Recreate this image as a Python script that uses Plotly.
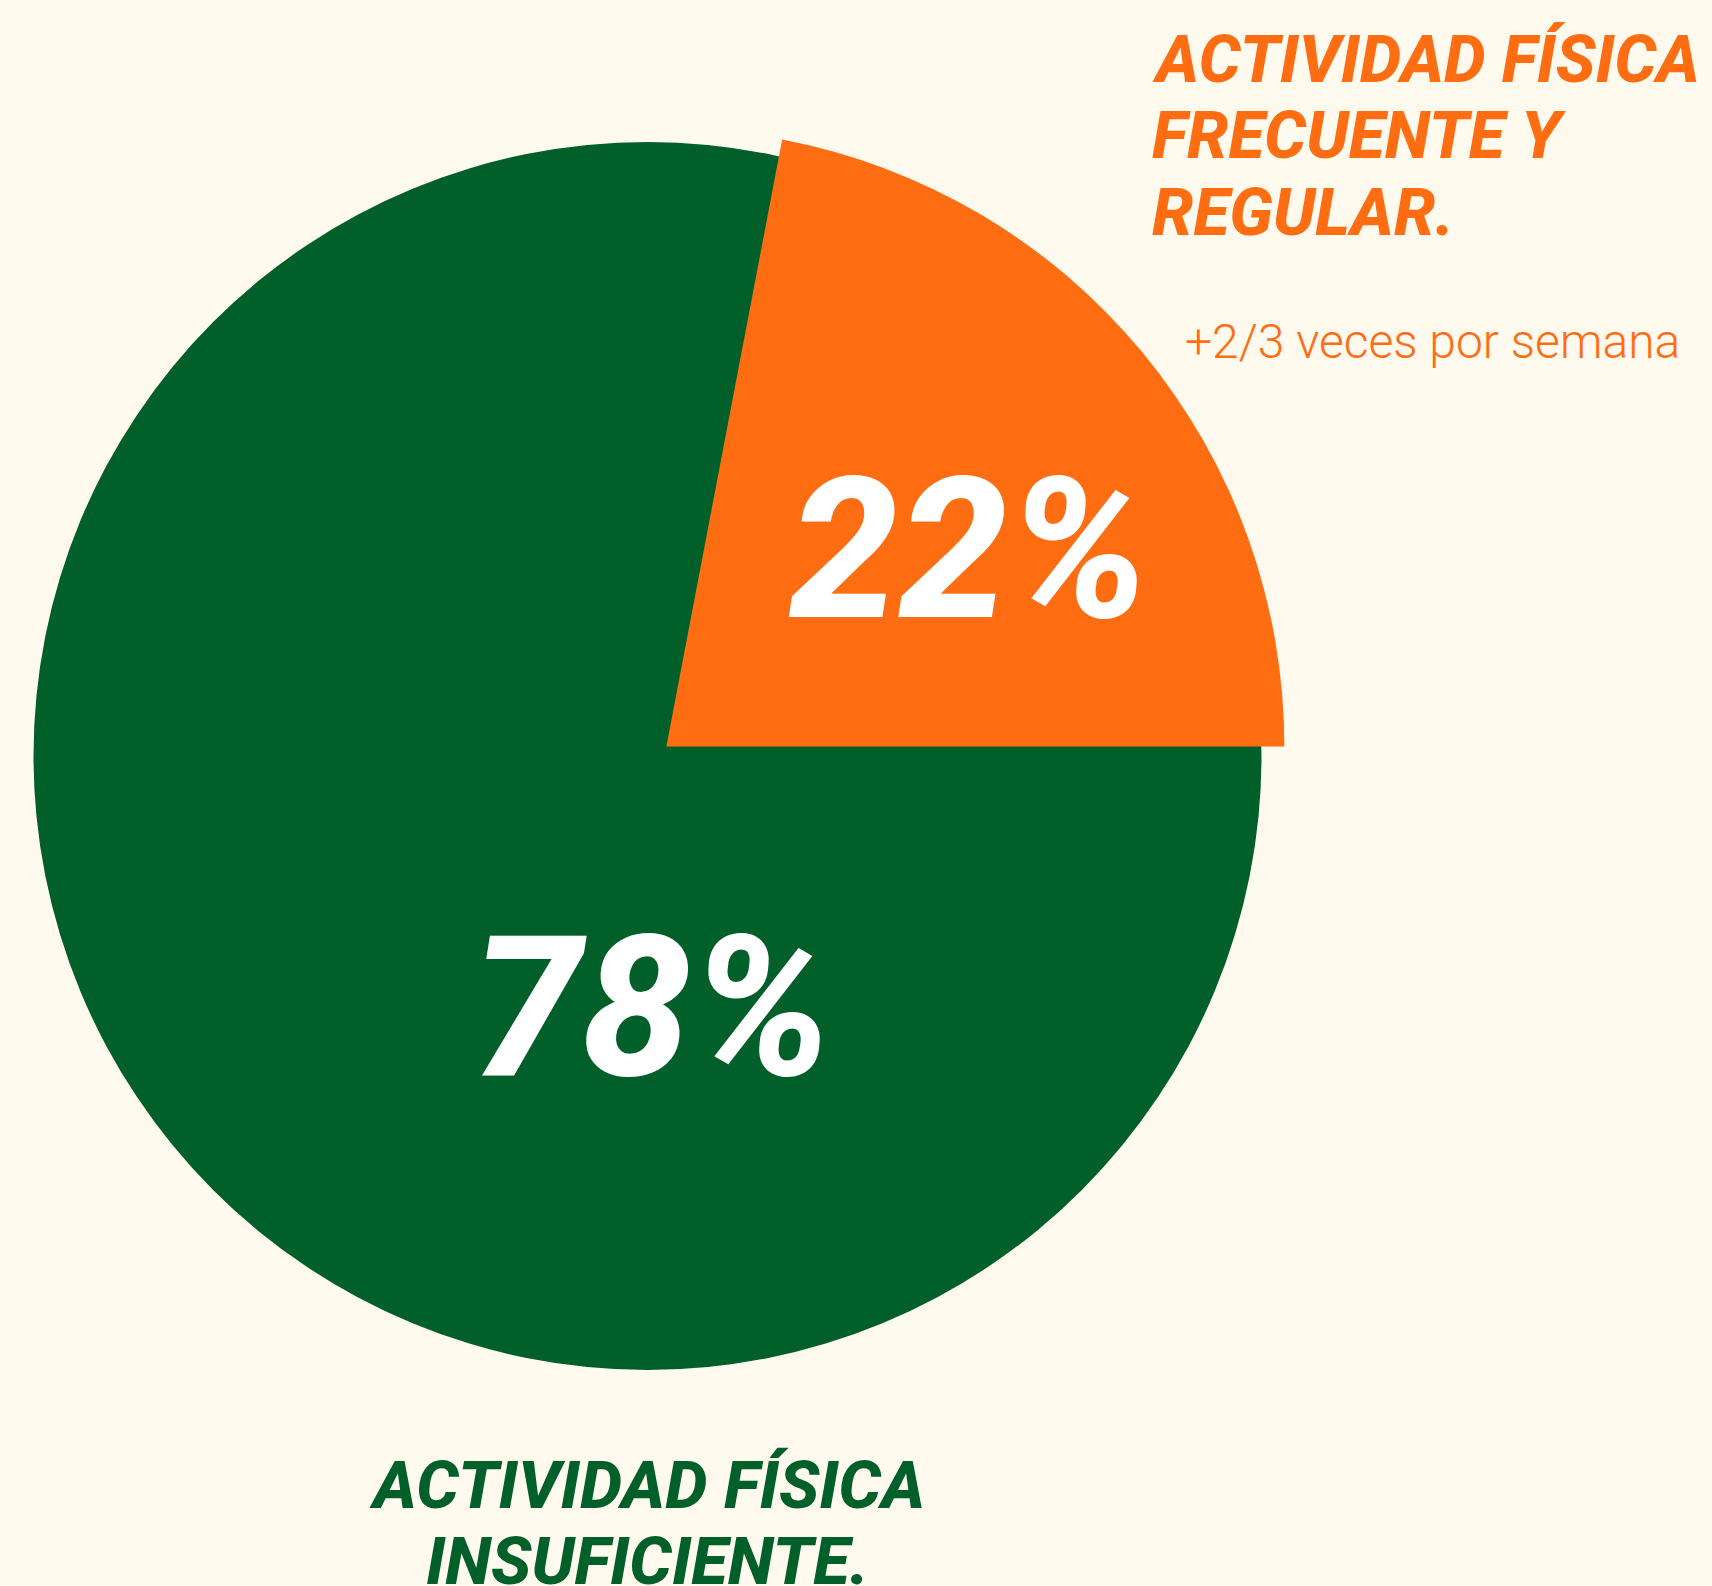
import plotly.graph_objects as go

# data
labels = ['Actividad física frecuente y regular', 'Actividad física insuficiente']
values = [22, 78]
colors = ['#FF6D12', '#015F29']
title_lines_top = ['ACTIVIDAD FÍSICA', 'FRECUENTE Y', 'REGULAR.']
subtitle_top = '+2/3 veces por semana'
title_lines_bottom = ['ACTIVIDAD FÍSICA', 'INSUFICIENTE.']

W, H = 1712, 1586
bg_color = '#FFF9EE'
head_font = 'Roboto'

pull = 0.035
cx, cy, radius = 647.5, 756, 614   # green disc centre and radius, pixels
ocx, ocy, oradius = 649.7, 760.3, 618   # pulled orange pie


def px(x, y):
    ''' pixel position -> paper coords '''
    return x / W, 1 - y / H


def domain(x, y, half):
    ''' square domain of given half size round a centre '''
    x0, y0 = px(x - half, y + half)
    x1, y1 = px(x + half, y - half)
    return dict(x=[x0, x1], y=[y0, y1])


# orange slice anchored at 3 o'clock, running counterclockwise
rotation = 90 - 360 * values[0] / sum(values)

fig = go.Figure()

# full green disc underneath so the pulled slice leaves no gap
fig.add_trace(go.Pie(
    labels=[labels[1]],
    values=[sum(values)],
    sort=False,
    textinfo='none',
    hoverinfo='skip',
    marker=dict(colors=[colors[1]], line=dict(width=0)),
    domain=domain(cx, cy, radius),
    showlegend=False,
))

# pulled orange slice on top, the green part left see-through
fig.add_trace(go.Pie(
    labels=labels,
    values=values,
    sort=False,
    direction='counterclockwise',
    rotation=rotation,
    pull=[pull, 0],
    textinfo='none',
    hoverinfo='label+percent',
    marker=dict(colors=[colors[0], 'rgba(0,0,0,0)'], line=dict(width=0)),
    domain=domain(ocx, ocy, oradius * (1 + pull)),
    showlegend=False,
))

annotations = []

# big percentages inside the slices
for val, (x, y) in zip(values, [(968, 550), (652, 1008)]):
    ax, ay = px(x, y)
    annotations.append(dict(
        text=f'{val}%', x=ax, y=ay, xref='paper', yref='paper',
        xanchor='center', yanchor='middle', showarrow=False,
        font=dict(family=head_font, size=196, color='white',
                  weight=800, style='italic')))

# top right heading
for line, y in zip(title_lines_top, [59, 136, 212]):
    ax, ay = px(1150, y)
    annotations.append(dict(
        text=line, x=ax, y=ay, xref='paper', yref='paper',
        xanchor='left', yanchor='middle', showarrow=False,
        font=dict(family=head_font, size=66, color=colors[0],
                  weight=800, style='italic')))

ax, ay = px(1183, 341.5)
annotations.append(dict(
    text=subtitle_top, x=ax, y=ay, xref='paper', yref='paper',
    xanchor='left', yanchor='middle', showarrow=False,
    font=dict(family=head_font, size=48, color=colors[0], weight=300)))

# bottom heading
for line, y in zip(title_lines_bottom, [1485, 1561]):
    ax, ay = px(647, y)
    annotations.append(dict(
        text=line, x=ax, y=ay, xref='paper', yref='paper',
        xanchor='center', yanchor='middle', showarrow=False,
        font=dict(family=head_font, size=67, color=colors[1],
                  weight=800, style='italic')))

fig.update_layout(
    width=W,
    height=H,
    paper_bgcolor=bg_color,
    plot_bgcolor=bg_color,
    margin=dict(l=0, r=0, t=0, b=0, autoexpand=False),
    annotations=annotations,
)

fig.write_html('out.html',
               config={'displayModeBar': False},
               post_script="document.body.style.margin='0';")
